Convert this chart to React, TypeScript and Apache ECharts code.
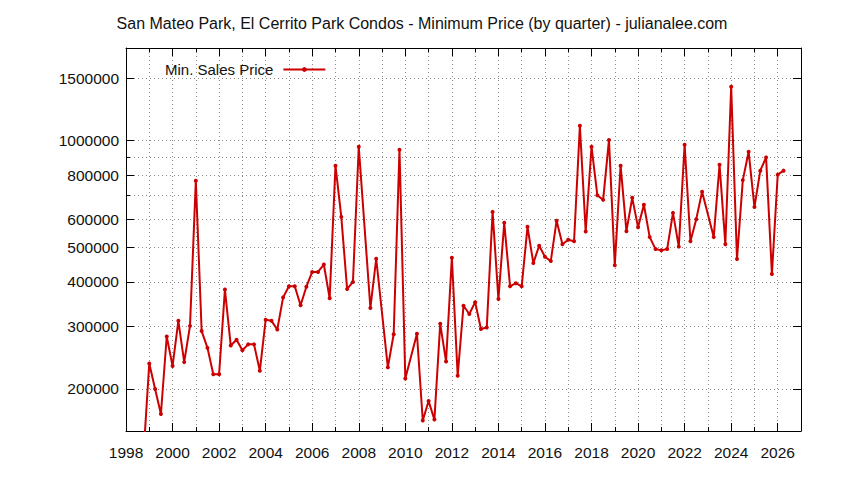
import { useEffect, useRef } from 'react'
import * as echarts from 'echarts'

// 每季度最低成交价
const quarters = [
  1998.75, 1999.0, 1999.25, 1999.5, 1999.75, 2000.0, 2000.25, 2000.5, 2000.75,
  2001.0, 2001.25, 2001.5, 2001.75, 2002.0, 2002.25, 2002.5, 2002.75,
  2003.0, 2003.25, 2003.5, 2003.75, 2004.0, 2004.25, 2004.5, 2004.75,
  2005.0, 2005.25, 2005.5, 2005.75, 2006.0, 2006.25, 2006.5, 2006.75,
  2007.0, 2007.25, 2007.5, 2007.75, 2008.0, 2008.5, 2008.75,
  2009.25, 2009.5, 2009.75, 2010.0, 2010.5, 2010.75,
  2011.0, 2011.25, 2011.5, 2011.75, 2012.0, 2012.25, 2012.5, 2012.75,
  2013.0, 2013.25, 2013.5, 2013.75, 2014.0, 2014.25, 2014.5, 2014.75,
  2015.0, 2015.25, 2015.5, 2015.75, 2016.0, 2016.25, 2016.5, 2016.75,
  2017.0, 2017.25, 2017.5, 2017.75, 2018.0, 2018.25, 2018.5, 2018.75,
  2019.0, 2019.25, 2019.5, 2019.75, 2020.0, 2020.25, 2020.5, 2020.75,
  2021.0, 2021.25, 2021.5, 2021.75, 2022.0, 2022.25, 2022.5, 2022.75,
  2023.25, 2023.5, 2023.75, 2024.0, 2024.25, 2024.5, 2024.75,
  2025.0, 2025.25, 2025.5, 2025.75, 2026.0, 2026.25,
]
const minPrices = [
  130000, 236000, 200000, 170000, 281000, 232000, 311000, 238000, 301000,
  771000, 291000, 261000, 220000, 220000, 381000, 265000, 275000,
  257000, 267000, 267000, 225000, 313000, 311000, 294000, 362000,
  389000, 389000, 344000, 388000, 427000, 427000, 448000, 360000,
  850000, 610000, 382000, 400000, 961000, 338000, 465000,
  230000, 285000, 942000, 214000, 286000, 163000,
  185000, 164000, 305000, 239000, 468000, 218000, 343000, 325000,
  351000, 295000, 298000, 630000, 358000, 587000, 389000, 397000,
  389000, 572000, 452000, 506000, 471000, 458000, 595000, 511000,
  526000, 521000, 1101000, 555000, 961000, 702000, 681000, 1004000,
  446000, 850000, 556000, 690000, 570000, 660000, 535000, 495000,
  491000, 495000, 626000, 503000, 973000, 521000, 601000, 718000,
  535000, 855000, 511000, 1418000, 464000, 774000, 930000,
  650000, 823000, 897000, 421000, 802000, 823000,
]

// 刻度
const yMajorTicks = [200000, 300000, 400000, 500000, 600000, 800000, 1000000, 1500000]
const yMinorTicks = [700000, 900000]
const xMajorTicks = [1998, 2000, 2002, 2004, 2006, 2008, 2010, 2012, 2014, 2016, 2018, 2020, 2022, 2024, 2026]
const xMinorTicks = [1999, 2001, 2003, 2005, 2007, 2009, 2011, 2013, 2015, 2017, 2019, 2021, 2023, 2025]

const chartTitle = 'San Mateo Park, El Cerrito Park Condos - Minimum Price (by quarter) - julianalee.com'
const seriesName = 'Min. Sales Price'

const font = '"Liberation Sans", Arial, sans-serif'
const red = '#cc0000'
const gridLine = { color: '#8a8a8a', type: [1, 3] as number[], width: 1 }
const yMin = 152300
const yMax = 1822000

export default function App() {
  const chartRef = useRef<HTMLDivElement>(null)

  useEffect(() => {
    document.body.style.margin = '0'
    if (!chartRef.current) return
    const chart = echarts.init(chartRef.current, undefined, { renderer: 'svg' })

    const xAxisBase = (position: 'top' | 'bottom', ticks: number[], len: number, labels: boolean, grid: boolean, line: boolean) => ({
      type: 'value' as const,
      position,
      min: 1998,
      max: 2027,
      axisLine: { show: line, onZero: false, lineStyle: { color: '#000', width: 1 } },
      axisTick: { show: true, inside: true, length: len, customValues: ticks, lineStyle: { color: '#000' } },
      axisLabel: labels
        ? { show: true, customValues: ticks, margin: 13, fontSize: 15.5, color: '#111', fontFamily: font, formatter: (v: number) => String(v) }
        : { show: false },
      splitLine: { show: grid, lineStyle: gridLine },
    })

    const yAxisBase = (position: 'left' | 'right', ticks: number[], len: number, labels: boolean, grid: boolean, line: boolean) => ({
      type: 'log' as const,
      position,
      min: yMin,
      max: yMax,
      axisLine: { show: line, onZero: false, lineStyle: { color: '#000', width: 1 } },
      axisTick: { show: true, inside: true, length: len, customValues: ticks, lineStyle: { color: '#000' } },
      axisLabel: labels
        ? { show: true, customValues: ticks, margin: 7, fontSize: 15.5, color: '#111', fontFamily: font, formatter: (v: number) => String(Math.round(v)) }
        : { show: false },
      splitLine: { show: grid, lineStyle: gridLine },
      minorTick: { show: false },
    })

    const option: any = {
      animation: false,
      backgroundColor: '#fff',
      title: {
        text: chartTitle,
        left: 'center',
        top: 10,
        textStyle: { fontSize: 16, fontWeight: 'normal', color: '#111', fontFamily: font },
      },
      legend: {
        data: [seriesName],
        left: 165,
        top: 62,
        padding: 0,
        align: 'right',
        itemWidth: 42,
        itemHeight: 6,
        textStyle: { fontSize: 15, color: '#111', fontFamily: font, padding: [0, 5, 0, 0] },
      },
      grid: { left: 126, right: 43, top: 48, bottom: 49, containLabel: false, outerBoundsMode: 'none' },
      xAxis: [
        xAxisBase('bottom', xMajorTicks, 8, true, true, true),
        xAxisBase('bottom', xMinorTicks, 4, false, true, false),
        xAxisBase('top', xMajorTicks, 8, false, false, true),
        xAxisBase('top', xMinorTicks, 4, false, false, false),
      ],
      yAxis: [
        yAxisBase('left', yMajorTicks, 8, true, true, true),
        yAxisBase('left', yMinorTicks, 4, false, true, false),
        yAxisBase('right', yMajorTicks, 8, false, false, true),
        yAxisBase('right', yMinorTicks, 4, false, false, false),
      ],
      series: [
        {
          name: seriesName,
          type: 'line',
          xAxisIndex: 0,
          yAxisIndex: 0,
          data: quarters.map((q, i) => [q, minPrices[i]]),
          symbol: 'circle',
          symbolSize: 4,
          showSymbol: true,
          clip: true,
          lineStyle: { color: red, width: 2 },
          itemStyle: { color: red },
          emphasis: { disabled: true },
        },
      ],
    }

    chart.setOption(option)
    return () => chart.dispose()
  }, [])

  return <div ref={chartRef} style={{ width: 844, height: 480 }} />
}
